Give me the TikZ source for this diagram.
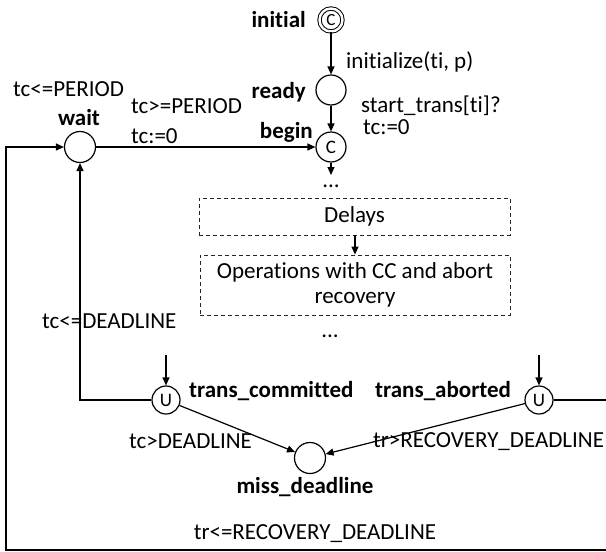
\documentclass[tikz,border=0pt]{standalone}
\usepackage{fontspec}
\setmainfont{Carlito}[Ligatures={NoCommon}]
\usetikzlibrary{arrows.meta}
\begin{document}
\begin{tikzpicture}[x=1pt,y=-1pt,
  every node/.style={font=\fontsize{23}{27}\selectfont, inner sep=0pt},
  bold/.style={font=\fontsize{23}{27}\selectfont\bfseries},
  state/.style={circle, draw, line width=1.2pt, minimum size=30pt,
    font=\fontsize{19}{21}\selectfont},
  smallstate/.style={state, minimum size=28pt},
  initstate/.style={circle, draw, line width=1pt, minimum size=23pt,
    double, double distance=2.4pt, font=\fontsize{17}{19}\selectfont},
  wire/.style={line width=1.2pt},
  conn/.style={wire, -{Triangle[length=8pt,width=7pt]}},
  dbox/.style={draw=black!85, dashed, dash pattern=on 4pt off 3pt,
    line width=0.8pt, align=center}
]
\useasboundingbox (0,0) rectangle (606,552);

% locations
\node[initstate] (init) at (331,20) {C};
\node[state] (ready) at (331,90) {};
\node[state] (begin) at (331,147) {C};
\node[state, minimum size=31pt] (wait) at (80,147) {};
\node[smallstate] (com) at (166,400) {U};
\node[smallstate] (ab) at (539,400) {U};
\node[state, minimum size=31pt] (miss) at (310,458) {};

% location names
\node[bold, anchor=east] (initlbl) at (306,20) {initial};
\node[bold, anchor=east] (readylbl) at (306,92) {ready};
\node[bold, anchor=east] (beginlbl) at (313,132) {begin};
\node[bold] (waitlbl) at (79,118) {wait};
\node[bold, anchor=west] (comlbl) at (189,391) {trans\_committed};
\node[bold, anchor=west] (ablbl) at (375,391) {trans\_aborted};
\node[bold] (misslbl) at (305,487) {miss\_deadline};

% guards, updates and invariants
\node[anchor=west] (initupd) at (346,62) {initialize(ti, p)};
\node[anchor=west] (sync) at (361,106) {start\_trans[ti]?};
\node[anchor=west] (reset1) at (363,127) {tc:=0};
\node[anchor=west] (waitinv) at (13,89) {tc<=PERIOD};
\node[anchor=west] (guard1) at (131,106) {tc>=PERIOD};
\node[anchor=west] (reset2) at (131,136) {tc:=0};
\node[anchor=west] (guard2) at (42,321) {tc<=DEADLINE};
\node[anchor=west] (guard3) at (129,441) {tc>DEADLINE};
\node[anchor=west] (guard4) at (373,442) {tr>RECOVERY\_DEADLINE};
\node (guard5) at (315,534) {tr<=RECOVERY\_DEADLINE};

% elided parts of the model
\node (dots1) at (331,186) {...};
\node[dbox, minimum width=311pt, minimum height=37pt] (delays) at (354.5,216.5) {Delays};
\node[dbox, minimum width=310pt, minimum height=60pt] (ops) at (355,285)
  {Operations with CC and abort\\[-2pt]recovery};
\node (dots2) at (330,336) {...};

% edges
\draw[conn] (init) -- (ready);
\draw[conn] (ready) -- (begin);
\draw[conn] (wait) -- (begin);
\coordinate (dotsin) at (331,175);
\draw[conn] (begin) -- (dotsin);
\draw[conn] (delays.south -| 355,0) -- (ops.north -| 355,0);
\coordinate (cominto) at (166,355);
\coordinate (abinto) at (539,355);
\draw[conn] (cominto) -- (com);
\draw[conn] (abinto) -- (ab);
\coordinate (combend) at (80,400);
\draw[conn] (com.west) -- (combend) -- (wait.south);
\draw[conn] (com) -- (miss);
\draw[conn] (ab) -- (miss);
\coordinate (abr) at (615,400);
\coordinate (abrb) at (615,550);
\coordinate (lb) at (6,550);
\coordinate (lt) at (6,147);
\draw[conn] (ab.east) -- (abr) -- (abrb) -- (lb) -- (lt) -- (wait.west);
\end{tikzpicture}
\end{document}
